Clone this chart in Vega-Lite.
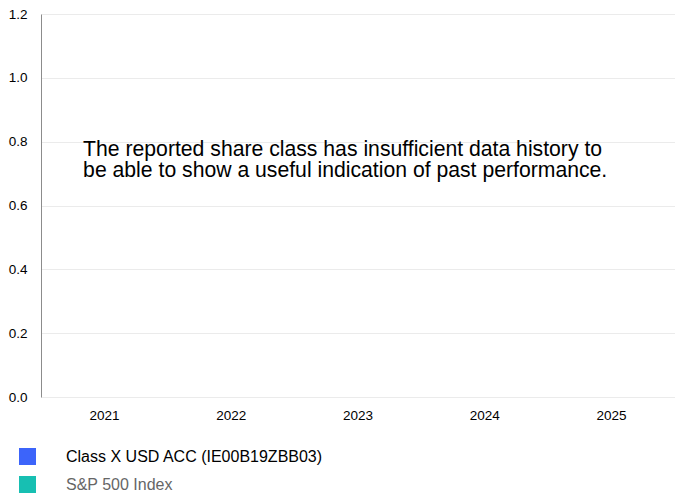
{
  "$schema": "https://vega.github.io/schema/vega-lite/v6.json",
  "width": 634,
  "height": 383,
  "autosize": {"type": "none"},
  "padding": {"left": 41, "top": 14, "right": 0, "bottom": 103},
  "background": "#ffffff",
  "config": {
    "font": "Liberation Sans",
    "view": {"stroke": null}
  },
  "datasets": {
    "perf": [
      {"year": "2021", "series": "Class X USD ACC (IE00B19ZBB03)", "value": null},
      {"year": "2021", "series": "S&P 500 Index", "value": null},
      {"year": "2022", "series": "Class X USD ACC (IE00B19ZBB03)", "value": null},
      {"year": "2022", "series": "S&P 500 Index", "value": null},
      {"year": "2023", "series": "Class X USD ACC (IE00B19ZBB03)", "value": null},
      {"year": "2023", "series": "S&P 500 Index", "value": null},
      {"year": "2024", "series": "Class X USD ACC (IE00B19ZBB03)", "value": null},
      {"year": "2024", "series": "S&P 500 Index", "value": null},
      {"year": "2025", "series": "Class X USD ACC (IE00B19ZBB03)", "value": null},
      {"year": "2025", "series": "S&P 500 Index", "value": null}
    ],
    "note": [
      {"year": "2021", "level": 0.755, "text": ["The reported share class has insufficient data history to", "be able to show a useful indication of past performance."]}
    ]
  },
  "layer": [
    {
      "data": {"name": "perf"},
      "mark": {"type": "bar"},
      "encoding": {
        "x": {
          "field": "year",
          "type": "nominal",
          "scale": {"domain": ["2021", "2022", "2023", "2024", "2025"], "paddingInner": 0.2, "paddingOuter": 0.1},
          "axis": {"title": null, "domain": false, "ticks": false, "grid": false, "labelAngle": 0, "labelPadding": 11, "labelFontSize": 13.5, "labelColor": "#000000"}
        },
        "xOffset": {"field": "series", "type": "nominal"},
        "y": {
          "field": "value",
          "type": "quantitative",
          "scale": {"domain": [0, 1.2], "nice": false},
          "axis": {
            "title": null,
            "values": [0, 0.2, 0.4, 0.6, 0.8, 1.0, 1.2],
            "format": ".1f",
            "ticks": false,
            "domain": true,
            "domainColor": "#8c8c8c",
            "domainWidth": 1,
            "grid": true,
            "gridColor": "#ebebeb",
            "gridWidth": 1,
            "labelPadding": 14,
            "labelFontSize": 13.5,
            "labelColor": "#000000"
          }
        },
        "color": {
          "field": "series",
          "type": "nominal",
          "scale": {"domain": ["Class X USD ACC (IE00B19ZBB03)", "S&P 500 Index"], "range": ["#3c64fa", "#17bfb2"]},
          "legend": {
            "title": null,
            "orient": "none",
            "legendX": -22,
            "legendY": 434,
            "direction": "vertical",
            "padding": 0,
            "symbolType": "square",
            "symbolSize": 289,
            "symbolStrokeWidth": 0,
            "symbolOpacity": 1,
            "labelFontSize": 16,
            "labelOffset": 30,
            "rowPadding": 11,
            "labelLimit": 500,
            "encode": {
              "labels": {"update": {"fill": {"signal": "datum.label === 'S&P 500 Index' ? '#666666' : '#000000'"}}}
            }
          }
        }
      }
    },
    {
      "data": {"name": "note"},
      "mark": {"type": "text", "align": "left", "baseline": "alphabetic", "fontSize": 21.2, "lineHeight": 21, "color": "#000000"},
      "encoding": {
        "x": {"field": "year", "type": "nominal", "bandPosition": 0.29},
        "y": {"field": "level", "type": "quantitative"},
        "text": {"field": "text"}
      }
    }
  ]
}
